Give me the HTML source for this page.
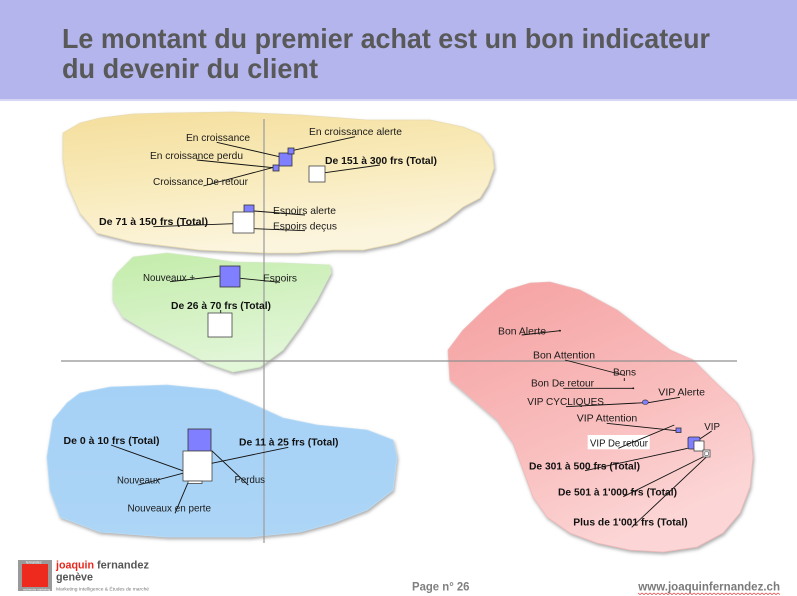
<!DOCTYPE html>
<html><head><meta charset="utf-8">
<style>
html,body{margin:0;padding:0;background:#fff;}
svg{display:block;}
text{font-family:"Liberation Sans",Arial,sans-serif;}
.l{font-size:10.5px;fill:#1a1a1a;}
.b{font-size:10.5px;font-weight:bold;fill:#111;}
.ln{stroke:#111;stroke-width:0.9;fill:none;}
.bq{fill:#7f7fff;stroke:#333;stroke-width:0.8;}
.wq{fill:#fff;stroke:#444;stroke-width:0.8;}
</style></head>
<body>
<svg width="797" height="596" viewBox="0 0 797 596" xmlns="http://www.w3.org/2000/svg">
<defs>
  <linearGradient id="gy" x1="0" y1="0" x2="0.3" y2="1">
    <stop offset="0" stop-color="#f4de9c"/>
    <stop offset="0.5" stop-color="#f8eab9"/>
    <stop offset="1" stop-color="#fcf5de"/>
  </linearGradient>
  <linearGradient id="gg" x1="0" y1="0" x2="0.3" y2="1">
    <stop offset="0" stop-color="#c3ecaa"/>
    <stop offset="1" stop-color="#e2f6d8"/>
  </linearGradient>
  <linearGradient id="gb" x1="0" y1="0" x2="0" y2="1">
    <stop offset="0" stop-color="#a6d1f6"/>
    <stop offset="1" stop-color="#acd5f6"/>
  </linearGradient>
  <linearGradient id="gr" x1="0" y1="0" x2="0.5" y2="1">
    <stop offset="0" stop-color="#f5a0a0"/>
    <stop offset="0.6" stop-color="#f9bdbd"/>
    <stop offset="1" stop-color="#fcd6d6"/>
  </linearGradient>
  <filter id="sh" x="-10%" y="-10%" width="120%" height="130%">
    <feDropShadow dx="1" dy="2" stdDeviation="1.5" flood-color="#777" flood-opacity="0.6"/>
  </filter>
</defs>

<!-- header -->
<rect x="0" y="0" width="797" height="99" fill="#b3b5ec"/>
<rect x="0" y="99" width="797" height="2" fill="#d6d7f4"/>
<text x="62" y="48" font-size="28" font-weight="bold" fill="#595959" textLength="648" lengthAdjust="spacingAndGlyphs">Le montant du premier achat est un bon indicateur</text>
<text x="62" y="78" font-size="28" font-weight="bold" fill="#595959" textLength="256" lengthAdjust="spacingAndGlyphs">du devenir du client</text>

<!-- blobs -->
<polygon filter="url(#sh)" fill="url(#gy)" stroke="#eadcb0" stroke-width="0.8" stroke-linejoin="round" points="63,133 80,123 100,118 133,114 167,113 233,112 300,115 367,120 430,120 463,127 480,134 492,150 494,168 488,185 480,198 463,207 447,220 430,230 397,243 363,250 333,250 297,253 267,253 200,250 133,242 97,233 80,213 67,183 63,160"/>
<polygon filter="url(#sh)" fill="url(#gg)" stroke="#d2eac4" stroke-width="0.8" stroke-linejoin="round" points="117,273 133,257 167,253 200,257 233,262 283,263 330,265 331,273 317,300 300,327 283,350 260,367 233,372 207,363 183,350 150,333 123,317 113,300 113,280"/>
<polygon filter="url(#sh)" fill="url(#gb)" stroke="#b8dcf6" stroke-width="0.8" stroke-linejoin="round" points="80,393 110,387 167,385 217,390 250,403 283,418 317,425 367,430 393,440 397,457 393,490 367,510 333,523 300,532 250,537 167,537 100,532 60,517 50,490 47,457 53,420 67,403"/>
<polygon filter="url(#sh)" fill="url(#gr)" stroke="#f0b8b8" stroke-width="0.8" stroke-linejoin="round" points="530,283 550,282 580,290 617,310 647,333 670,350 693,360 713,380 737,403 750,430 753,457 750,487 740,513 723,533 697,547 663,552 630,550 597,543 570,533 547,517 533,497 523,470 513,443 497,420 470,397 450,380 448,350 463,330 487,307 507,290"/>

<!-- axes -->
<line x1="264" y1="119" x2="264" y2="543" stroke="#a0a0a0" stroke-width="1.3"/>
<line x1="61" y1="361" x2="737" y2="361" stroke="#909090" stroke-width="1.2"/>

<!-- yellow group -->
<line class="ln" x1="216.7" y1="142.3" x2="279.3" y2="156.7"/>
<line class="ln" x1="196.7" y1="160" x2="273.3" y2="167.7"/>
<line class="ln" x1="203.3" y1="186" x2="276" y2="166.7"/>
<line class="ln" x1="355" y1="136.7" x2="291.7" y2="150.7"/>
<line class="ln" x1="380" y1="165" x2="325" y2="172.7"/>
<line class="ln" x1="254" y1="211" x2="305" y2="215"/>
<line class="ln" x1="254.3" y1="228.7" x2="305" y2="230.7"/>
<line class="ln" x1="153.3" y1="226.7" x2="233.3" y2="223.7"/>
<rect class="bq" x="279" y="153" width="13" height="13"/>
<rect class="bq" x="288" y="148" width="6" height="6"/>
<rect class="bq" x="273" y="165" width="6" height="6"/>
<rect class="wq" x="309" y="166" width="16" height="16"/>
<rect class="bq" x="244" y="205" width="10" height="10"/>
<rect class="wq" x="233" y="212" width="21" height="21"/>
<text class="l" x="186" y="141" textLength="64" lengthAdjust="spacingAndGlyphs">En croissance</text>
<text class="l" x="150" y="159" textLength="93" lengthAdjust="spacingAndGlyphs">En croissance perdu</text>
<text class="l" x="153" y="185" textLength="95" lengthAdjust="spacingAndGlyphs">Croissance De retour</text>
<text class="l" x="309" y="135" textLength="93" lengthAdjust="spacingAndGlyphs">En croissance alerte</text>
<text class="b" x="325" y="164" textLength="112" lengthAdjust="spacingAndGlyphs">De 151 à 300 frs (Total)</text>
<text class="l" x="273" y="214" textLength="63" lengthAdjust="spacingAndGlyphs">Espoirs alerte</text>
<text class="l" x="273" y="229.5" textLength="64" lengthAdjust="spacingAndGlyphs">Espoirs deçus</text>
<text class="b" x="99" y="225" textLength="109" lengthAdjust="spacingAndGlyphs">De 71 à 150 frs  (Total)</text>

<!-- green group -->
<line class="ln" x1="170" y1="281.7" x2="220" y2="276"/>
<line class="ln" x1="240.3" y1="278.3" x2="280" y2="282.3"/>
<line class="ln" x1="220.7" y1="310" x2="220.7" y2="313"/>
<rect class="bq" x="220" y="266" width="20" height="21"/>
<rect class="wq" x="208" y="313" width="24" height="24"/>
<text class="l" x="143" y="281" textLength="52" lengthAdjust="spacingAndGlyphs">Nouveaux +</text>
<text class="l" x="263" y="281.5" textLength="34" lengthAdjust="spacingAndGlyphs">Espoirs</text>
<text class="b" x="171" y="309" textLength="100" lengthAdjust="spacingAndGlyphs">De 26 à 70 frs (Total)</text>

<!-- blue group -->
<rect class="bq" x="188" y="429" width="23" height="22"/>
<rect class="wq" x="183" y="451" width="29" height="30"/>
<rect class="wq" x="188" y="481" width="14" height="2.5"/>
<line class="ln" x1="111" y1="445" x2="182.7" y2="470.7"/>
<line class="ln" x1="288.3" y1="447.3" x2="211.7" y2="463.3"/>
<line class="ln" x1="138.3" y1="485" x2="182.7" y2="473.3"/>
<line class="ln" x1="248.3" y1="485" x2="211.7" y2="450.7"/>
<line class="ln" x1="175" y1="513.3" x2="187.7" y2="483.3"/>
<text class="b" x="63.5" y="444" textLength="96" lengthAdjust="spacingAndGlyphs">De 0 à 10 frs (Total)</text>
<text class="b" x="239" y="445.7" textLength="99.5" lengthAdjust="spacingAndGlyphs">De 11 à 25 frs (Total)</text>
<text class="l" x="117" y="483.3" textLength="43" lengthAdjust="spacingAndGlyphs">Nouveaux</text>
<text class="l" x="234.5" y="483" textLength="30.5" lengthAdjust="spacingAndGlyphs">Perdus</text>
<text class="l" x="127.5" y="511.7" textLength="83.5" lengthAdjust="spacingAndGlyphs">Nouveaux en perte</text>

<!-- red group -->
<line class="ln" x1="521.7" y1="335" x2="560" y2="330.7"/>
<circle cx="560" cy="330.7" r="0.9" fill="#111"/>
<line class="ln" x1="565" y1="360" x2="625" y2="375.5"/>
<line class="ln" x1="624.3" y1="378" x2="624.3" y2="381"/>
<line class="ln" x1="563.3" y1="388.3" x2="633.3" y2="388.3"/>
<circle cx="633.3" cy="388.3" r="0.9" fill="#111"/>
<line class="ln" x1="566" y1="406.7" x2="644.3" y2="402.7"/>
<line class="ln" x1="680" y1="397.3" x2="648.3" y2="402.7"/>
<ellipse cx="645.3" cy="402.2" rx="3" ry="2.3" fill="#7f7fff" stroke="#333" stroke-width="0.6"/>
<line class="ln" x1="606.7" y1="423.3" x2="676.7" y2="430.7"/>
<rect class="bq" x="676" y="428" width="5" height="4.5" stroke-width="0.6"/>
<rect x="587.7" y="435" width="62" height="14.3" fill="#fff"/>
<line class="ln" x1="618.3" y1="448.3" x2="674.3" y2="425"/>
<line class="ln" x1="711.7" y1="431" x2="698.3" y2="440"/>
<line class="ln" x1="585" y1="470.7" x2="687.7" y2="448.3"/>
<line class="ln" x1="623.3" y1="496.7" x2="705" y2="456"/>
<line class="ln" x1="631.7" y1="527.3" x2="706.7" y2="456.7"/>
<rect class="bq" x="688" y="437" width="12" height="12" rx="1.5"/>
<rect class="wq" x="694" y="441" width="10" height="10"/>
<rect class="wq" x="703" y="450" width="7" height="7"/>
<rect fill="none" stroke="#444" stroke-width="0.6" x="704.8" y="451.8" width="3.5" height="3.5"/>
<text class="l" x="498" y="334.3" textLength="48" lengthAdjust="spacingAndGlyphs">Bon Alerte</text>
<text class="l" x="533" y="358.3" textLength="62" lengthAdjust="spacingAndGlyphs">Bon Attention</text>
<text class="l" x="613" y="375.7" textLength="23" lengthAdjust="spacingAndGlyphs">Bons</text>
<text class="l" x="531" y="386.7" textLength="63" lengthAdjust="spacingAndGlyphs">Bon De retour</text>
<text class="l" x="527.3" y="405" textLength="76.7" lengthAdjust="spacingAndGlyphs">VIP CYCLIQUES</text>
<text class="l" x="658.3" y="395.3" textLength="46.7" lengthAdjust="spacingAndGlyphs">VIP Alerte</text>
<text class="l" x="576.7" y="421.3" textLength="60.6" lengthAdjust="spacingAndGlyphs">VIP Attention</text>
<text class="l" x="590" y="446.7" textLength="58" lengthAdjust="spacingAndGlyphs">VIP De retour</text>
<text class="l" x="704.3" y="430" textLength="15.7" lengthAdjust="spacingAndGlyphs">VIP</text>
<text class="b" x="529" y="469.3" textLength="111" lengthAdjust="spacingAndGlyphs">De 301 à 500 frs (Total)</text>
<text class="b" x="558" y="495.3" textLength="119" lengthAdjust="spacingAndGlyphs">De 501 à 1'000 frs (Total)</text>
<text class="b" x="573.3" y="525.3" textLength="114.4" lengthAdjust="spacingAndGlyphs">Plus de 1'001 frs (Total)</text>

<!-- footer logo -->
<rect x="18" y="560" width="34" height="31" fill="#9a9a9a"/>
<rect x="22" y="564" width="26" height="23" fill="#ee2a1e"/>
<text x="26" y="563.3" font-size="3.5" fill="#fff">fernandez</text>
<text x="23" y="590.5" font-size="3" fill="#fff">recherche marketing</text>
<text x="56" y="568.3" font-size="11" font-weight="bold" fill="#e8281e" textLength="38" lengthAdjust="spacingAndGlyphs">joaquin</text>
<text x="97" y="568.3" font-size="11" font-weight="bold" fill="#555" textLength="52" lengthAdjust="spacingAndGlyphs">fernandez</text>
<text x="56" y="580.5" font-size="11" font-weight="bold" fill="#555" textLength="37" lengthAdjust="spacingAndGlyphs">genève</text>
<text x="56" y="590.5" font-size="4.5" fill="#777" textLength="93" lengthAdjust="spacingAndGlyphs">Marketing Intelligence &amp; Études de marché</text>

<text x="412" y="590.5" font-size="11.5" font-weight="bold" fill="#808080" textLength="57.5" lengthAdjust="spacingAndGlyphs">Page n° 26</text>
<text x="638.3" y="590.5" font-size="11.5" font-weight="bold" fill="#7a7a7a" textLength="141.7" lengthAdjust="spacingAndGlyphs">www.joaquinfernandez.ch</text>
<polyline fill="none" stroke="#e83030" stroke-width="0.7" points="638,593 640,594.5 642,593 644,594.5 646,593 648,594.5 650,593 652,594.5 654,593 656,594.5 658,593 660,594.5 662,593 664,594.5 666,593 668,594.5 670,593 672,594.5 674,593 676,594.5 678,593 680,594.5 682,593 684,594.5 686,593 688,594.5 690,593 692,594.5 694,593 696,594.5 698,593 700,594.5 702,593 704,594.5 706,593 708,594.5 710,593 712,594.5 714,593 716,594.5 718,593 720,594.5 722,593 724,594.5 726,593 728,594.5 730,593 732,594.5 734,593 736,594.5 738,593 740,594.5 742,593 744,594.5 746,593 748,594.5 750,593 752,594.5 754,593 756,594.5 758,593 760,594.5 762,593 764,594.5 766,593 768,594.5 770,593 772,594.5 774,593 776,594.5 778,593 780,594.5"/>
</svg>
</body></html>
